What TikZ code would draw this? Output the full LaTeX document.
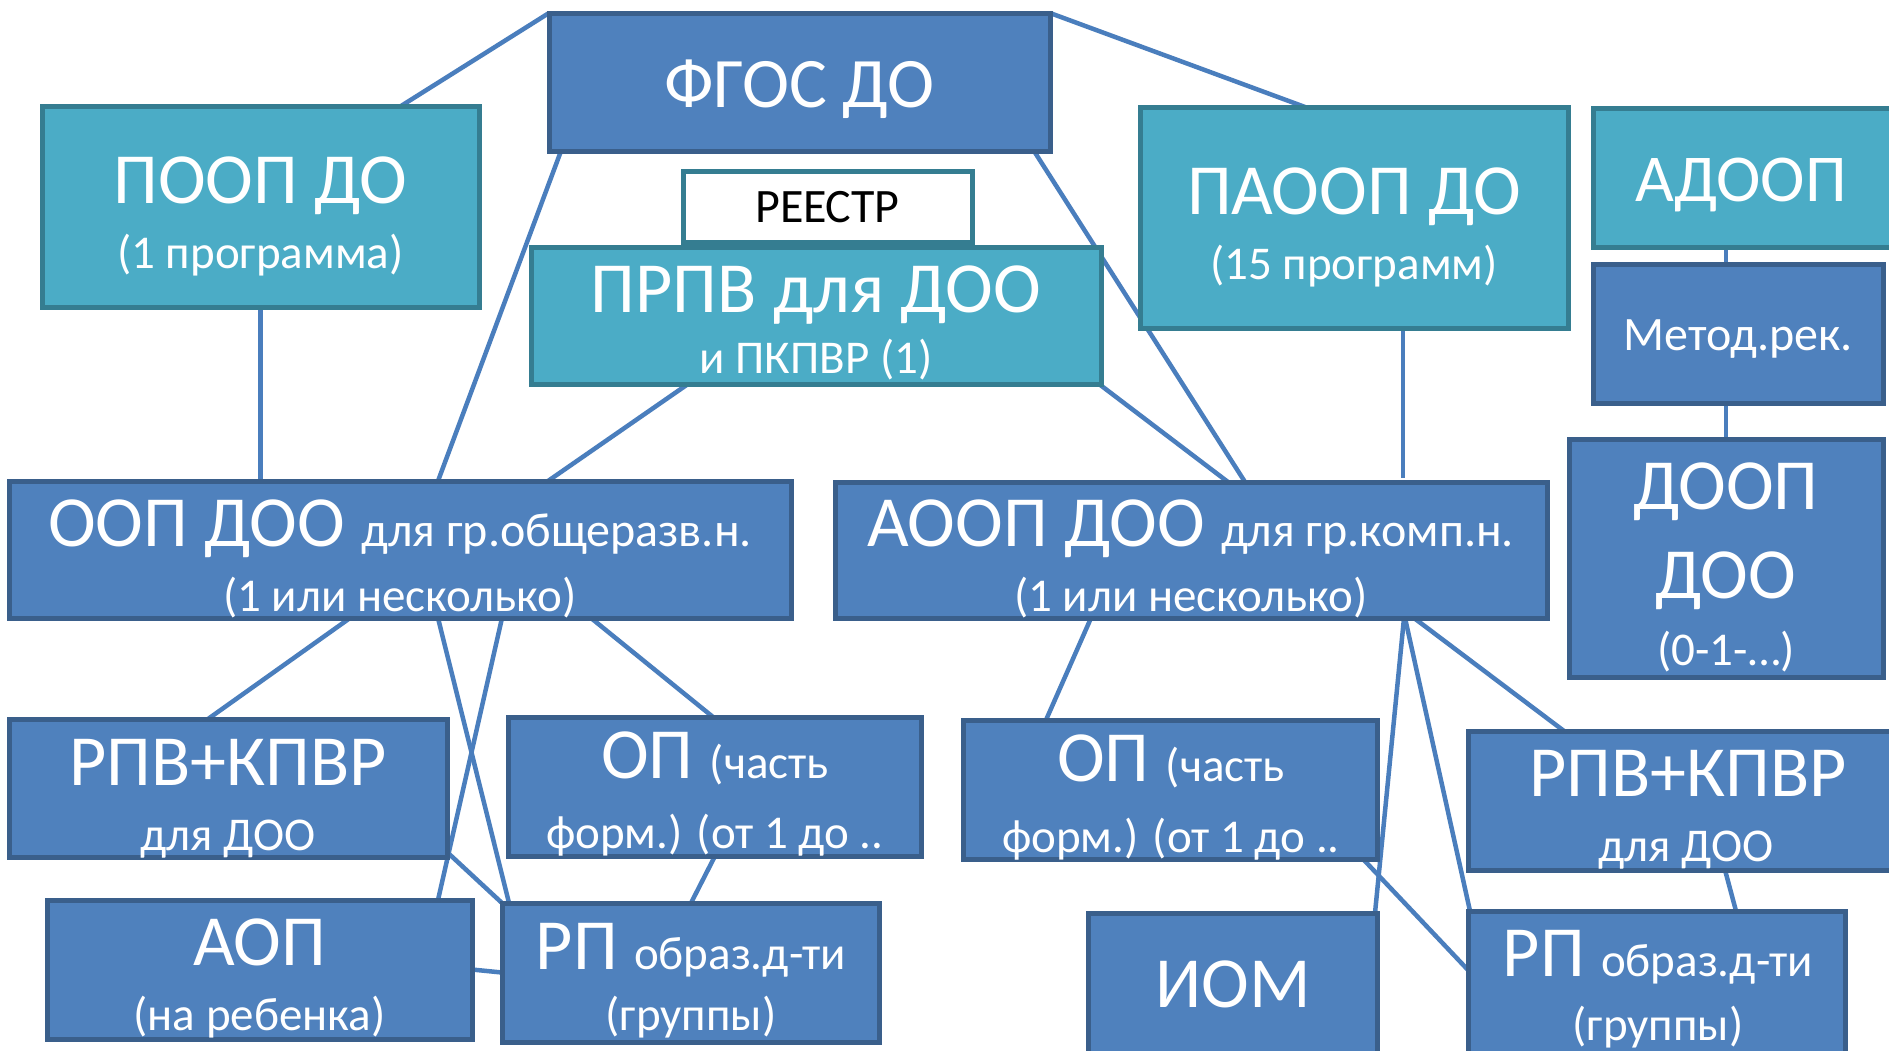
\documentclass[tikz,border=0pt]{standalone}
\usepackage{fontspec}
\setmainfont{Carlito}
\usetikzlibrary{calc}
\definecolor{bfill}{HTML}{4F81BD}
\definecolor{bdraw}{HTML}{3A5F8B}
\definecolor{tfill}{HTML}{4BACC6}
\definecolor{tdraw}{HTML}{357D91}
\definecolor{lnc}{HTML}{4A7EBD}
\newcommand\fsL{\fontsize{72}{80}\selectfont}
\newcommand\fsM{\fontsize{47}{54}\selectfont}
\pgfdeclarelayer{bgwhite}
\pgfdeclarelayer{background}
\pgfsetlayers{bgwhite,background,main}
\begin{document}
\begin{tikzpicture}[x=1pt,y=-1pt,
  box/.style={rectangle, inner sep=0pt, outer sep=0pt, line width=5pt},
  bbox/.style={box, fill=bfill, draw=bdraw},
  tbox/.style={box, fill=tfill, draw=tdraw},
  wbox/.style={box, fill=white, draw=tdraw},
  lbl/.style={anchor=base, text=white, inner sep=0pt, outer sep=0pt},
  conn/.style={draw=lnc, line width=4.5pt}]
\useasboundingbox (0,0) rectangle (1889,1050);
\clip (0,0) rectangle (1889,1050);
\begin{pgfonlayer}{bgwhite}
\fill[white] (0,0) rectangle (1889,1050);
\end{pgfonlayer}
% boxes
\node[bbox, minimum width=501pt, minimum height=138pt] (fgos) at (799.5,82) {};
\node[tbox, minimum width=437pt, minimum height=201pt] (poop) at (260.5,206.5) {};
\node[wbox, minimum width=289pt, minimum height=71pt] (reestr) at (827.5,206.5) {};
\node[tbox, minimum width=570pt, minimum height=137pt] (prpv) at (816,315.5) {};
\node[tbox, minimum width=428pt, minimum height=221pt] (paoop) at (1354,217.5) {};
\node[tbox, minimum width=302pt, minimum height=139pt] (adoop) at (1744,177.5) {};
\node[bbox, minimum width=290pt, minimum height=139pt] (metod) at (1738,333.5) {};
\node[bbox, minimum width=314pt, minimum height=238pt] (doop) at (1726,558) {};
\node[bbox, minimum width=782pt, minimum height=137pt] (oop) at (400,549.5) {};
\node[bbox, minimum width=712pt, minimum height=136pt] (aoop) at (1191,550) {};
\node[bbox, minimum width=438pt, minimum height=138pt] (rpvL) at (228,788) {};
\node[bbox, minimum width=413pt, minimum height=139pt] (opL) at (714.5,786.5) {};
\node[bbox, minimum width=425pt, minimum height=139pt] (aop) at (259.5,969.5) {};
\node[bbox, minimum width=377pt, minimum height=139pt] (rpL) at (690.5,972.5) {};
\node[bbox, minimum width=414pt, minimum height=139pt] (opR) at (1170,789.5) {};
\node[bbox, minimum width=440pt, minimum height=139pt] (rpvR) at (1688,800.5) {};
\node[bbox, minimum width=289pt, minimum height=152pt] (iom) at (1232.5,989) {};
\node[bbox, minimum width=377pt, minimum height=154pt] (rpR) at (1656.5,988) {};
% connectors
\begin{pgfonlayer}{background}
\draw[conn] (fgos.north west) -- ([xshift=359pt]poop.north west);
\draw[conn] (fgos.north east) -- ([xshift=165pt]paoop.north west);
\draw[conn] ([xshift=12pt]fgos.south west) -- ([xshift=429pt]oop.north west);
\draw[conn] ([xshift=-16pt]fgos.south east) -- ([xshift=410pt]aoop.north west);
\draw[conn] ([xshift=157pt]prpv.south west) -- ([xshift=539pt]oop.north west);
\draw[conn] ([xshift=-2pt]prpv.south east) -- ([xshift=393pt]aoop.north west);
\draw[conn] (poop.south) -- (poop.south |- oop.north);
\draw[conn] ([xshift=49pt]paoop.south) -- ([xshift=49pt,yshift=4pt]paoop.south |- aoop.north);
\draw[conn] ([xshift=-18pt]adoop.south) -- ([xshift=-12pt]metod.north);
\draw[conn] ([xshift=-12pt]metod.south) -- (doop.north);
\draw[conn] ([xshift=341pt]oop.south west) -- ([xshift=199pt]rpvL.north west);
\draw[conn] ([xshift=429pt]oop.south west) -- ([xshift=7pt]rpL.north west);
\draw[conn] ([xshift=493pt]oop.south west) -- ([xshift=391pt]aop.north west);
\draw[conn] ([xshift=582pt]oop.south west) -- ([xshift=205pt]opL.north west);
\draw[conn] ([yshift=5pt]rpvL.south east) -- (rpL.north west);
\draw[conn] ([xshift=207pt]opL.south west) -- ([xshift=189pt]rpL.north west);
\draw[conn] (aop.east) -- (rpL.west);
\draw[conn] ([xshift=256pt]aoop.south west) -- ([xshift=83pt]opR.north west);
\draw[conn] ([xshift=569pt]aoop.south west) -- ([xshift=-2pt]iom.north east);
\draw[conn] ([xshift=570pt]aoop.south west) -- ([xshift=2pt]rpR.north west);
\draw[conn] ([xshift=579pt]aoop.south west) -- ([xshift=96pt]rpvR.north west);
\draw[conn] ([xshift=-14pt]opR.south east) -- ([yshift=18pt]rpR.west);
\draw[conn] ([xshift=257pt]rpvR.south west) -- ([xshift=268pt]rpR.north west);
\end{pgfonlayer}
% texts
\node[lbl] (fgos-t) at (799.5,107) {\fontsize{71}{78}\selectfont ФГОС ДО};
\node[lbl] (poop-t1) at (260.5,203) {\fsL ПООП ДО};
\node[lbl] (poop-t2) at (260.5,268) {\fsM (1 программа)};
\node[lbl, text=black] (reestr-t) at (827.5,222) {\fontsize{48}{54}\selectfont РЕЕСТР};
\node[lbl] (prpv-t1) at (816,312) {\fsL ПРПВ для ДОО};
\node[lbl] (prpv-t2) at (816,373) {\fsM и ПКПВР (1)};
\node[lbl] (paoop-t1) at (1354,214) {\fsL ПАООП ДО};
\node[lbl] (paoop-t2) at (1354,279) {\fsM (15 программ)};
\node[lbl] (adoop-t) at (1741,201) {\fontsize{67}{74}\selectfont АДООП};
\node[lbl] (metod-t) at (1738,350) {\fontsize{48}{54}\selectfont Метод.рек.};
\node[lbl] (doop-t1) at (1726,509) {\fsL ДООП};
\node[lbl] (doop-t2) at (1726,598) {\fsL ДОО};
\node[lbl] (doop-t3) at (1726,665) {\fsM (0-1-…)};
\node[lbl] (oop-t1) at (400,546) {\fsL ООП ДОО {\fontsize{48}{54}\selectfont для гр.общеразв.н.}};
\node[lbl] (oop-t2) at (400,611) {\fsM (1 или несколько)};
\node[lbl] (aoop-t1) at (1191,546) {\fsL АООП ДОО {\fontsize{48}{54}\selectfont для гр.комп.н.}};
\node[lbl] (aoop-t2) at (1191,611) {\fsM (1 или несколько)};
\node[lbl] (rpvL-t1) at (228,785) {\fsL РПВ+КПВР};
\node[lbl] (rpvL-t2) at (228,850) {\fsM для ДОО};
\node[lbl] (opL-t1) at (715,778) {\fsL ОП {\fsM (часть}};
\node[lbl] (opL-t2) at (715,848) {\fsM форм.) (от 1 до ..};
\node[lbl] (aop-t1) at (259.5,965) {\fsL АОП};
\node[lbl] (aop-t2) at (259.5,1030) {\fsM (на ребенка)};
\node[lbl] (rpL-t1) at (691,969) {\fsL РП {\fsM образ.д-ти}};
\node[lbl] (rpL-t2) at (691,1030) {\fsM (группы)};
\node[lbl] (opR-t1) at (1171,781) {\fsL ОП {\fsM (часть}};
\node[lbl] (opR-t2) at (1171,852) {\fsM форм.) (от 1 до ..};
\node[lbl] (rpvR-t1) at (1688,796) {\fsL РПВ+КПВР};
\node[lbl] (rpvR-t2) at (1686,861) {\fsM для ДОО};
\node[lbl] (iom-t) at (1233,1007) {\fsL ИОМ};
\node[lbl] (rpR-t1) at (1658,976) {\fsL РП {\fsM образ.д-ти}};
\node[lbl] (rpR-t2) at (1658,1040) {\fsM (группы)};
\end{tikzpicture}
\end{document}
